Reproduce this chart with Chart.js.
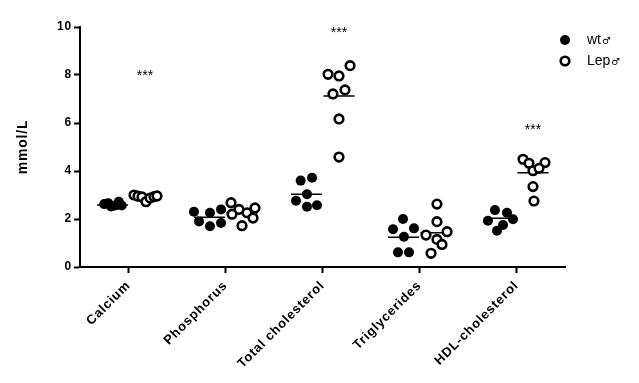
<!DOCTYPE html>
<html lang="en">
  <head>
    <meta charset="UTF-8" />
    <title>Serum chemistry</title>
    <style>
      html, body { margin: 0; padding: 0; background: #fff; }
      .chart-container { position: relative; width: 639px; height: 383px; }
    </style>
    <script src="https://cdn.jsdelivr.net/npm/chart.js"></script>
  </head>
  <body>
    <div class="chart-container">
      <canvas id="serumChart"></canvas>
    </div>
    <script>
      // data
      const categories = ["Calcium", "Phosphorus", "Total cholesterol", "Triglycerides", "HDL-cholesterol"];
      const yTicks = [0, 2, 4, 6, 8, 10];

      // per group: values and horizontal jitter (in category units, relative to the tick)
      const wtValues = [
        [2.62, 2.66, 2.52, 2.55, 2.58, 2.72, 2.56],
        [2.3, 1.9, 2.26, 1.7, 2.4, 1.83],
        [3.6, 3.72, 3.03, 2.76, 2.51, 2.57],
        [2.0, 1.57, 1.61, 1.26, 0.61, 0.61],
        [2.37, 2.26, 1.93, 1.99, 1.75, 1.51]
      ];
      const wtJitter = [
        [-0.25, -0.21, -0.18, -0.15, -0.12, -0.10, -0.07],
        [-0.325, -0.273, -0.16, -0.16, -0.046, -0.046],
        [-0.225, -0.108, -0.16, -0.273, -0.16, -0.057],
        [-0.17, -0.273, -0.057, -0.16, -0.222, -0.108],
        [-0.222, -0.098, -0.294, -0.036, -0.139, -0.201]
      ];
      const lepValues = [
        [3.0, 2.95, 2.92, 2.72, 2.87, 2.93, 2.96],
        [2.68, 2.4, 2.2, 2.26, 1.72, 2.04, 2.46],
        [8.39, 8.03, 7.96, 7.38, 7.21, 6.17, 4.58],
        [2.62, 1.89, 1.33, 1.47, 1.15, 0.94, 0.57],
        [4.49, 4.32, 4.35, 4.01, 4.11, 3.35, 2.75]
      ];
      const lepJitter = [
        [0.057, 0.098, 0.139, 0.18, 0.222, 0.263, 0.294],
        [0.057, 0.139, 0.067, 0.222, 0.17, 0.284, 0.304],
        [0.284, 0.057, 0.17, 0.232, 0.108, 0.17, 0.17],
        [0.18, 0.18, 0.067, 0.284, 0.18, 0.232, 0.119],
        [0.067, 0.129, 0.294, 0.17, 0.232, 0.17, 0.18]
      ];
      const wtMeans = [2.58, 2.07, 3.03, 1.24, 2.03];
      const lepMeans = [2.88, 2.25, 7.12, 1.43, 3.93];

      // significance marks: category index, value height
      const starCategories = [0, 2, 4];
      const starValues = [8.08, 9.88, 5.83];

      const wtCenter = -0.165, lepCenter = 0.17, halfWidth = 0.16;

      function points(values, jitter) {
        const out = [];
        values.forEach((group, i) => {
          group.forEach((v, j) => out.push({ x: i + 0.5 + jitter[i][j], y: v }));
        });
        return out;
      }

      function meanSegments(means, center) {
        const out = [];
        means.forEach((m, i) => {
          out.push({ x: i + 0.5 + center - halfWidth, y: m });
          out.push({ x: i + 0.5 + center + halfWidth, y: m });
          out.push({ x: i + 0.5 + center + halfWidth, y: null });
        });
        return out;
      }

      // wider letter spacing like the original export
      const spacing = {
        id: "spacing",
        beforeDraw(chart) { chart.ctx.letterSpacing = "0.8px"; },
        afterDraw(chart) { chart.ctx.letterSpacing = "0px"; }
      };

      const annotations = {
        id: "annotations",
        afterDatasetsDraw(chart) {
          const ctx = chart.ctx;
          const xs = chart.scales.x, ys = chart.scales.y;
          ctx.save();
          ctx.letterSpacing = "0px";
          ctx.fillStyle = "#000";
          ctx.font = "14px 'Liberation Sans', Arial, sans-serif";
          ctx.textAlign = "center";
          ctx.textBaseline = "middle";
          starCategories.forEach((c, k) => {
            ctx.fillText("***", xs.getPixelForValue(c + 0.5 + lepCenter), ys.getPixelForValue(starValues[k]) + 3);
          });

          // legend
          const entries = [["wt", true], ["Lep", false]];
          entries.forEach(([label, filled], k) => {
            const y = 40 + k * 21;
            ctx.beginPath();
            ctx.arc(565, y, filled ? 5 : 4.3, 0, Math.PI * 2);
            if (filled) { ctx.fill(); }
            else { ctx.lineWidth = 2.6; ctx.strokeStyle = "#000"; ctx.stroke(); }
            ctx.textAlign = "left";
            ctx.font = "14px 'Liberation Sans', Arial, sans-serif";
            ctx.fillText(label, 587, y);
            const w = ctx.measureText(label).width;
            ctx.font = "10px 'DejaVu Sans', sans-serif";
            ctx.fillText("\u2642", 587 + w + 1, y + 1);
          });
          ctx.restore();
        }
      };

      const ctx = document.getElementById("serumChart").getContext("2d");
      new Chart(ctx, {
        type: "scatter",
        data: {
          datasets: [
            {
              label: "wt",
              data: points(wtValues, wtJitter),
              backgroundColor: "#000",
              borderColor: "#000",
              pointRadius: 5,
              pointBorderWidth: 0
            },
            {
              label: "Lep",
              data: points(lepValues, lepJitter),
              backgroundColor: "#fff",
              borderColor: "#000",
              pointRadius: 4.3,
              pointBorderWidth: 2.6
            },
            {
              label: "wt mean",
              type: "line",
              data: meanSegments(wtMeans, wtCenter),
              borderColor: "#000",
              borderWidth: 1.5,
              pointRadius: 0,
              spanGaps: false
            },
            {
              label: "Lep mean",
              type: "line",
              data: meanSegments(lepMeans, lepCenter),
              borderColor: "#000",
              borderWidth: 1.5,
              pointRadius: 0,
              spanGaps: false
            }
          ]
        },
        options: {
          responsive: true,
          maintainAspectRatio: false,
          animation: false,
          events: [],
          layout: { padding: { left: 0, top: 27, right: 74, bottom: 0 } },
          plugins: { legend: { display: false }, tooltip: { enabled: false } },
          scales: {
            x: {
              type: "linear",
              min: 0,
              max: categories.length,
              afterBuildTicks(scale) {
                scale.ticks = categories.map((c, i) => ({ value: i + 0.5 }));
              },
              afterFit(scale) { scale.height = 116; },
              border: { display: true, color: "#000", width: 2 },
              grid: { display: true, drawOnChartArea: false, color: "#000", tickLength: 6, tickWidth: 2 },
              ticks: {
                autoSkip: false,
                maxRotation: 45,
                minRotation: 45,
                padding: 5,
                color: "#000",
                font: { family: "'Liberation Sans', Arial, sans-serif", size: 13, weight: "bold" },
                callback: (v) => categories[Math.round(v - 0.5)]
              }
            },
            y: {
              min: 0,
              max: 10,
              afterBuildTicks(scale) {
                scale.ticks = yTicks.map((v) => ({ value: v }));
              },
              afterFit(scale) { scale.width = 80; },
              border: { display: true, color: "#000", width: 2 },
              grid: { display: true, drawOnChartArea: false, color: "#000", tickLength: 6, tickWidth: 2 },
              ticks: {
                padding: 2,
                color: "#000",
                font: { family: "'Liberation Sans', Arial, sans-serif", size: 12, weight: "bold" }
              },
              title: {
                display: true,
                text: "mmol/L",
                color: "#000",
                padding: { top: 15, bottom: 16 },
                font: { family: "'Liberation Sans', Arial, sans-serif", size: 14, weight: "bold" }
              }
            }
          }
        },
        plugins: [spacing, annotations]
      });
    </script>
  </body>
</html>
